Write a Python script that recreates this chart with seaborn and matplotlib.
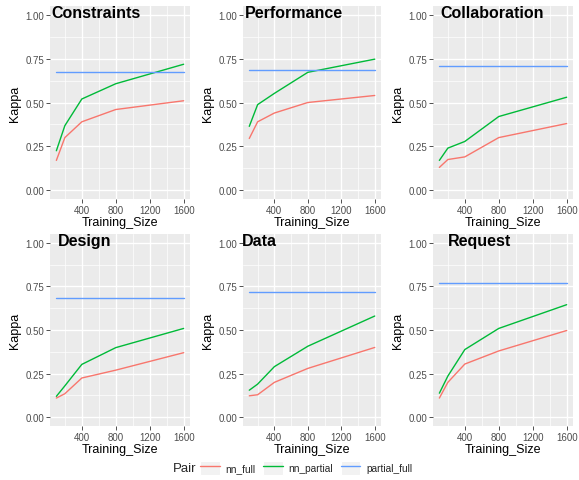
import matplotlib
matplotlib.use("Agg")
import matplotlib.pyplot as plt
from matplotlib.lines import Line2D
from matplotlib.patches import Rectangle
from matplotlib.legend_handler import HandlerLine2D
import pandas as pd
import seaborn as sns

# ---- data -------------------------------------------------------------
training_size = [100, 200, 400, 800, 1600]
categories = ["Constraints", "Performance", "Collaboration", "Design", "Data", "Request"]
pairs = ["nn_full", "nn_partial", "partial_full"]

nn_full = {
    "Constraints":   [0.17, 0.30, 0.39, 0.46, 0.51],
    "Performance":   [0.295, 0.39, 0.44, 0.50, 0.54],
    "Collaboration": [0.13, 0.175, 0.19, 0.30, 0.38],
    "Design":        [0.11, 0.135, 0.225, 0.27, 0.37],
    "Data":          [0.123, 0.129, 0.20, 0.28, 0.40],
    "Request":       [0.11, 0.20, 0.305, 0.38, 0.497],
}
nn_partial = {
    "Constraints":   [0.225, 0.368, 0.52, 0.607, 0.718],
    "Performance":   [0.364, 0.488, 0.552, 0.672, 0.747],
    "Collaboration": [0.17, 0.24, 0.278, 0.42, 0.53],
    "Design":        [0.12, 0.18, 0.303, 0.399, 0.509],
    "Data":          [0.155, 0.19, 0.29, 0.407, 0.58],
    "Request":       [0.138, 0.236, 0.388, 0.509, 0.645],
}
partial_full = {
    "Constraints": 0.676, "Performance": 0.686, "Collaboration": 0.709,
    "Design": 0.683, "Data": 0.72, "Request": 0.768,
}

rows = []
for cat in categories:
    for i, n in enumerate(training_size):
        rows.append((cat, n, "nn_full", nn_full[cat][i]))
        rows.append((cat, n, "nn_partial", nn_partial[cat][i]))
        rows.append((cat, n, "partial_full", partial_full[cat]))
df = pd.DataFrame(rows, columns=["Category", "Training_Size", "Pair", "Kappa"])

# ---- style ------------------------------------------------------------
palette = {"nn_full": "#F8766D", "nn_partial": "#00BA38", "partial_full": "#619CFF"}
sns.set_theme(style="darkgrid", rc={
    "axes.facecolor": "#EBEBEB",
    "grid.color": "white",
})
plt.rcParams["font.family"] = ["Liberation Sans", "DejaVu Sans"]

W, H = 579, 481
fig = plt.figure(figsize=(W / 100, H / 100), dpi=100)
fig.patch.set_facecolor("white")

col_px = [(50, 190), (243, 381), (433, 573)]
row_px = [(7, 200), (235, 427)]
title_dx = [0.007, 0.015, 0.05, 0.057, -0.007, 0.107]

for k, cat in enumerate(categories):
    r, c = divmod(k, 3)
    x0, x1 = col_px[c]
    y0, y1 = row_px[r]
    ax = fig.add_axes([x0 / W, 1 - y1 / H, (x1 - x0) / W, (y1 - y0) / H])
    sub = df[df["Category"] == cat]
    sns.lineplot(data=sub, x="Training_Size", y="Kappa", hue="Pair",
                 hue_order=pairs, palette=palette, ax=ax, legend=False,
                 linewidth=1.0, estimator=None)
    ax.set_xlim(25, 1675)
    ax.set_ylim(-0.05, 1.05)
    ax.set_xticks([400, 800, 1200, 1600])
    ax.set_xticks([200, 600, 1000, 1400], minor=True)
    ax.set_yticks([0, 0.25, 0.5, 0.75, 1.0])
    ax.set_yticks([0.125, 0.375, 0.625, 0.875], minor=True)
    ax.set_yticklabels(["0.00", "0.25", "0.50", "0.75", "1.00"])
    ax.grid(which="major", color="white", linewidth=1.0)
    ax.grid(which="minor", color="white", linewidth=0.5)
    for s in ax.spines.values():
        s.set_visible(False)
    ax.tick_params(which="major", length=2.75, width=0.6, color="#333333",
                   labelsize=7, labelcolor="#4D4D4D", pad=1.5,
                   bottom=True, left=True)
    ax.tick_params(which="minor", length=0)
    ax.set_xlabel("Training_Size", fontsize=9, color="black", labelpad=1)
    ax.set_ylabel("Kappa", fontsize=9, color="black", labelpad=3)
    ax.text(title_dx[k], 0.945, cat, transform=ax.transAxes, fontsize=11.5,
            fontweight="bold", color="black", ha="left", va="baseline")


class KeyHandler(HandlerLine2D):
    """Legend key drawn as a line over a light grey box."""

    def create_artists(self, legend, orig_handle, xdescent, ydescent,
                       width, height, fontsize, trans):
        box = Rectangle((-xdescent, -ydescent), width, height,
                        facecolor="#F2F2F2", edgecolor="white",
                        linewidth=0.8, transform=trans)
        lines = super().create_artists(legend, orig_handle, xdescent, ydescent,
                                       width, height, fontsize, trans)
        return [box] + list(lines)


handles = [Line2D([], [], color=palette[p], linewidth=1.0) for p in pairs]
fig.legend(handles, pairs, handler_map={Line2D: KeyHandler()},
           loc="center left", bbox_to_anchor=(198 / W, 1 - 469 / H), ncol=3,
           frameon=False, fontsize=7.3, handlelength=1.95, handleheight=1.75,
           handletextpad=0.55, columnspacing=0.75, borderpad=0.2,
           borderaxespad=0)
fig.text(173 / W, 1 - 469 / H, "Pair", fontsize=9.5, ha="left", va="center")

fig.savefig("out.png", dpi=100)
